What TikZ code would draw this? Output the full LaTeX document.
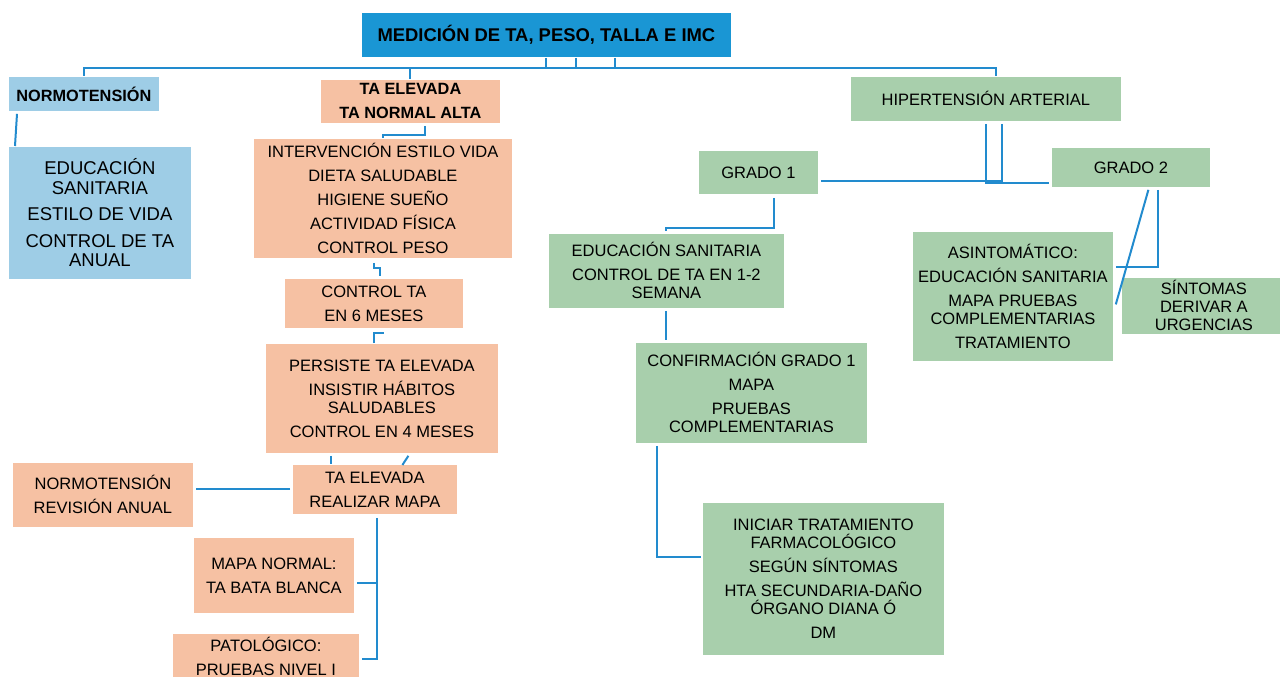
\documentclass[tikz,border=0pt]{standalone}
\usepackage{fontspec}
\setmainfont{Liberation Sans}
\usetikzlibrary{calc}

\definecolor{titleblue}{RGB}{26,150,212}
\definecolor{paleblue}{RGB}{158,205,230}
\definecolor{peach}{RGB}{246,193,163}
\definecolor{sage}{RGB}{168,207,172}
\definecolor{linkblue}{RGB}{34,139,206}

\tikzset{
  box/.style={anchor=north west, draw=white, line width=.8pt, inner sep=2pt,
    align=center, font=\fontsize{16.5}{18}\selectfont},
  bluebox/.style={box, fill=paleblue},
  peachbox/.style={box, fill=peach},
  greenbox/.style={box, fill=sage},
  boldtxt/.style={font=\fontsize{16.3}{24}\selectfont\bfseries},
  conn/.style={linkblue, line width=2pt}
}

\begin{document}
\begin{tikzpicture}[x=1pt, y=-1pt]

  \useasboundingbox (0,0) rectangle (1280,677);
  \clip (0,0) rectangle (1280,677);

  % title
  \node[box, fill=titleblue, minimum width=370pt, minimum height=45pt,
    font=\fontsize{18.4}{20}\selectfont\bfseries] (title) at (361,12)
    {MEDICIÓN DE TA, PESO, TALLA E IMC};

  % normotension branch
  \node[bluebox, boldtxt, minimum width=151pt, minimum height=35pt] (normo) at (8,76)
    {NORMOTENSIÓN};
  \node[bluebox, font=\fontsize{18.5}{19.5}\selectfont, minimum width=183pt,
    minimum height=133pt] (educ) at (8,146)
    {EDUCACIÓN\\SANITARIA\\[7pt]ESTILO DE VIDA\\[7pt]CONTROL DE TA\\ANUAL};

  % TA elevada branch
  \node[peachbox, boldtxt, minimum width=180pt, minimum height=44pt] (taelev) at (320,79)
    {TA ELEVADA\\TA NORMAL ALTA};
  \node[peachbox, minimum width=259pt, minimum height=120pt] (interv) at (253,138)
    {INTERVENCIÓN ESTILO VIDA\\[6pt]DIETA SALUDABLE\\[6pt]HIGIENE SUEÑO\\[6pt]ACTIVIDAD FÍSICA\\[6pt]CONTROL PESO};
  \node[peachbox, minimum width=179pt, minimum height=50pt] (ctrlsix) at (284,278)
    {CONTROL TA\\[6pt]EN 6 MESES};
  \node[peachbox, minimum width=233pt, minimum height=110pt] (persiste) at (265,343)
    {PERSISTE TA ELEVADA\\[6pt]INSISTIR HÁBITOS\\SALUDABLES\\[6pt]CONTROL EN 4 MESES};
  \node[peachbox, minimum width=165pt, minimum height=50pt] (mapa) at (292,464)
    {TA ELEVADA\\[6pt]REALIZAR MAPA};
  \node[peachbox, minimum width=181pt, minimum height=65pt] (normorev) at (12,462)
    {NORMOTENSIÓN\\[6pt]REVISIÓN ANUAL};
  \node[peachbox, minimum width=161pt, minimum height=76pt] (mapanormal) at (193,537)
    {MAPA NORMAL:\\[6pt]TA BATA BLANCA};
  \node[peachbox, minimum width=187pt, minimum height=46pt] (patol) at (172,633)
    {PATOLÓGICO:\\[6pt]PRUEBAS NIVEL I};

  % hipertension branch
  \node[greenbox, minimum width=271pt, minimum height=45pt] (hta) at (850,76)
    {HIPERTENSIÓN ARTERIAL};
  \node[greenbox, minimum width=120pt, minimum height=44pt] (gradoone) at (698,150)
    {GRADO 1};
  \node[greenbox, minimum width=159pt, minimum height=40pt] (gradotwo) at (1051,147)
    {GRADO 2};
  \node[greenbox, minimum width=236pt, minimum height=75pt] (edusan) at (548,233)
    {EDUCACIÓN SANITARIA\\[6pt]CONTROL DE TA EN 1-2\\SEMANA};
  \node[greenbox, minimum width=232pt, minimum height=101pt] (confirm) at (635,342)
    {CONFIRMACIÓN GRADO 1\\[6pt]MAPA\\[6pt]PRUEBAS\\COMPLEMENTARIAS};
  \node[greenbox, minimum width=242pt, minimum height=153pt] (iniciar) at (702,502)
    {INICIAR TRATAMIENTO\\FARMACOLÓGICO\\[6pt]SEGÚN SÍNTOMAS\\[6pt]HTA SECUNDARIA-DAÑO\\ÓRGANO DIANA Ó\\[6pt]DM};
  \node[greenbox, minimum width=201pt, minimum height=130pt] (asint) at (912,231)
    {ASINTOMÁTICO:\\[6pt]EDUCACIÓN SANITARIA\\[6pt]MAPA PRUEBAS\\COMPLEMENTARIAS\\[6pt]TRATAMIENTO};
  \node[greenbox, minimum width=165pt, minimum height=57pt] (sintomas) at (1121,277)
    {SÍNTOMAS\\DERIVAR A\\URGENCIAS};

  % connectors
  \draw[conn] (normo.north) -- ++(0,-8) -| ([xshift=10pt]hta.north);
  \foreach \dx in {0,30,69}
    \draw[conn] ([xshift=\dx pt]title.south) -- ++(0,11);
  \draw[conn] (taelev.north) -- ++(0,-11);

  \draw[conn] ([xshift=9pt,yshift=-2pt]normo.south west) -- ([xshift=7pt]educ.north west);

  \draw[conn] ([xshift=15pt,yshift=-2pt]taelev.south) -- ++(0,9) -| (interv.north);
  \draw[conn] ([yshift=-4pt]interv.south -| ctrlsix.north) -- ++(0,5) -- ++(6,0)
    -- ([xshift=6pt,yshift=2pt]ctrlsix.north);
  \draw[conn] ([xshift=-7.5pt]persiste.north) -- ++(0,-10) -- ++(10,0);
  \draw[conn] ([xshift=-50.5pt,yshift=-2pt]persiste.south) -- ([xshift=-43.5pt]mapa.north);
  \draw[conn] ([xshift=26.5pt,yshift=-2pt]persiste.south) -- ([xshift=27.5pt,yshift=-1pt]mapa.north);
  \draw[conn] ([xshift=-2pt]mapa.west) -- ([xshift=2pt]normorev.east |- mapa.west);
  \draw[conn] ([xshift=2.5pt,yshift=-3pt]mapa.south) coordinate (mapadown)
    |- ([xshift=2pt,yshift=-8pt]mapanormal.east)
    (mapadown) |- ([xshift=2pt,yshift=-3pt]patol.east);

  \draw[conn] ([xshift=16.5pt,yshift=-2pt]hta.south) |- ([xshift=2pt,yshift=-9pt]gradoone.east);
  \draw[conn] ([xshift=0.5pt,yshift=-2pt]hta.south) |- ([xshift=-2pt,yshift=-16pt]gradotwo.west);
  \draw[conn] ([xshift=16pt,yshift=-3pt]gradoone.south) |- ([yshift=5pt]edusan.north)
    -- ([yshift=2pt]edusan.north);
  \draw[conn] ([yshift=-2pt]edusan.south) -- ([yshift=2pt]edusan.south |- confirm.north);
  \draw[conn] ([xshift=22pt,yshift=-2pt]confirm.south west) |- ([xshift=-1pt,yshift=21.5pt]iniciar.west);
  \draw[conn] ([xshift=27.5pt,yshift=-2pt]gradotwo.south) |- ([xshift=2pt,yshift=29pt]asint.east);
  \draw[conn] ([xshift=17.5pt,yshift=-2pt]gradotwo.south) -- ([xshift=2pt,yshift=-8pt]asint.east);

\end{tikzpicture}
\end{document}
